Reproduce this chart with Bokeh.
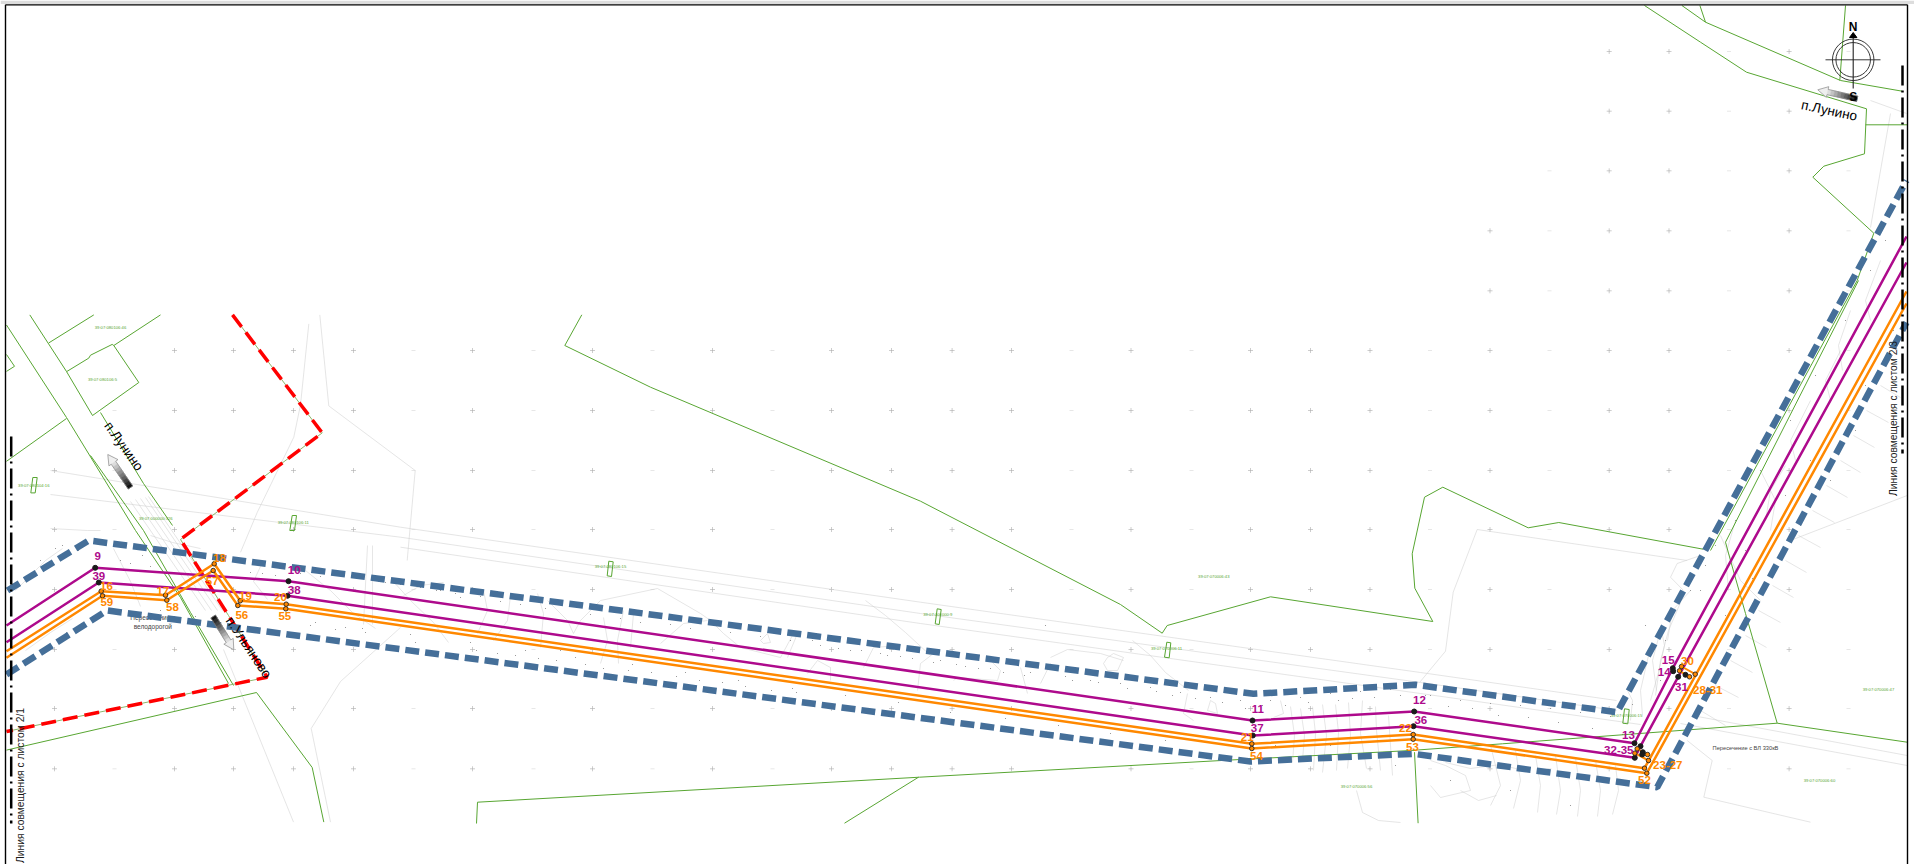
import numpy as np
from bokeh.plotting import figure
from bokeh.models import Range1d
from bokeh.core.properties import value
from bokeh.embed import file_html
from bokeh.resources import INLINE

# ---------- route lines (map coordinates as read from the sheet) ----------
magenta_a_x = [6, 94.7, 288, 1252, 1413.7, 1634, 1672.3, 1906]
magenta_a_y = [625, 567.3, 580.7, 720, 711, 742.7, 667.7, 236]
magenta_b_x = [6, 98.3, 287, 1252.3, 1413, 1634.3, 1640, 1677.7, 1906]
magenta_b_y = [641.7, 582, 595.3, 735, 725.7, 757.3, 745.7, 676.3, 262]
orange_a_x = [6, 100.7, 165, 213.7, 239.7, 285.7, 1251.3, 1412.7, 1644, 1906]
orange_a_y = [650.7, 590.7, 594.7, 563.3, 600.3, 603.7, 743.3, 734, 767.7, 291]
orange_b_x = [6, 102, 166.3, 212.7, 237.3, 285.3, 1251.3, 1412.7, 1646.3, 1906]
orange_b_y = [657.3, 595.3, 599.7, 570, 605, 608.3, 748, 738.7, 772.7, 303]
orange_links = [([1681, 1694.7], [666, 673.7]), ([1679, 1689], [670.3, 676.3]),
                ([1636.7, 1647], [748.3, 754]), ([1634.3, 1648], [752.7, 760])]
black_x = [94.7, 98.3, 288, 287, 1252, 1252.3, 1413.7, 1413, 1634, 1640, 1634.3, 1642.3, 1641.7, 1672.3, 1672.7, 1677.7, 1685]
black_y = [567.3, 582, 580.7, 595.3, 720, 735, 711, 725.7, 742.7, 745.7, 757.3, 751.7, 754, 667.7, 670.7, 676.3, 674.3]
ring_x = [100.7, 102, 165, 166.3, 213.7, 212.7, 239.7, 237.3, 285.7, 285.3, 1251.3, 1251.3, 1412.7, 1412.7,
          1636.7, 1634.3, 1647, 1648, 1644, 1646.3, 1681, 1679, 1694.7, 1689]
ring_y = [590.7, 595.3, 594.7, 599.7, 563.3, 570, 600.3, 605, 603.7, 608.3, 743.3, 748, 734, 738.7,
          748.3, 752.7, 754, 760, 767.7, 772.7, 666, 670.3, 673.7, 676.3]

# ---------- protection zone ----------
zone_top_x = [7, 88.3, 1253, 1415, 1616.7, 1906]
zone_top_y = [590, 540, 693.3, 684.3, 711.7, 180]
zone_bot_x = [6, 106.7, 1250, 1413, 1656.7, 1906]
zone_bot_y = [674, 610, 761, 753.3, 786.7, 322]

# ---------- red boundary ----------
red_a_x = [232, 321.7, 180, 228, 266.7, 6]
red_a_y = [314.4, 432.4, 539, 615, 676.7, 731]

# ---------- sheet match lines ----------
match_left_x = [10.7, 10.7]
match_left_y = [436, 823]
match_right_x = [1902, 1902]
match_right_y = [65, 453]

# ---------- cadastre lines (green) ----------
green_lines = [
    ([6, 66, 135, 180, 228], [324.5, 417, 530, 597, 683]),
    ([90, 143, 190, 233], [455, 530, 612, 685]),
    ([29.3, 66, 92], [314.4, 371, 415]),
    ([100, 143, 172], [412, 483, 525]),
    ([48.3, 93.3], [342.4, 314.4]),
    ([66, 88.3, 90, 111.7, 113.3, 160], [371.2, 357.6, 354.7, 343.9, 345, 314.4]),
    ([113.3, 138.3, 92], [345, 382, 415]),
    ([6, 14, 6], [354, 365.8, 370.9]),
    ([66, 6], [418, 460.8]),
    ([6, 256, 311.7, 323.3], [749.6, 692, 767, 821.6]),
    ([581.3, 564.3, 650, 920, 1120, 1161.7, 1166.7, 1270, 1432.3, 1414.3, 1411.7, 1424, 1442.3, 1527.7, 1558.3, 1702.7],
     [314.3, 345, 386.7, 500.7, 604, 632.7, 625, 596.3, 621, 587.7, 553.3, 496.7, 486.7, 527.3, 522, 548.7]),
    ([1710, 1856.7, 1873.3, 1812.3, 1823.3, 1864, 1866, 1746, 1700, 1644], [550, 280, 232.7, 176.7, 165.7, 153.3, 108.3, 71.7, 41.7, 5]),
    ([1725, 1858], [541.7, 280]),
    ([1725, 1730, 1745, 1776.7, 1501.8, 1410, 1221, 919, 477, 476], [541.7, 560, 613, 722.7, 743.3, 750, 760, 776.7, 801.7, 823]),
    ([1776.7, 1906.7], [722.7, 741.7]),
    ([918, 844], [776.7, 822.7]),
    ([1414, 1417.6], [751.7, 822.7]),
    ([1681.4, 1705, 1840, 1901.7], [5, 21.7, 80, 90.7]),
    ([1699.4, 1705], [5, 21.7]),
    ([1845, 1839.3], [5, 80]),
    ([1865, 1906.7], [124.3, 124.3]),
]
tower_shapes = [
    ([32.3, 36.7, 34.7, 30.3], [477, 477, 492.4, 492.4]),
    ([291.7, 296, 294, 289.3], [515, 515, 530, 530]),
    ([608.3, 612.7, 611, 606.7], [560.7, 561.3, 576, 575.3]),
    ([936.7, 940.7, 938.7, 934.7], [608.3, 609, 624, 623.3]),
    ([1166.3, 1170.3, 1168.7, 1164], [641.7, 642.3, 657.3, 656.7]),
    ([1624, 1628.7, 1627.3, 1622.3], [708.3, 709, 723.3, 722.7]),
]
parcel_x = [110, 102, 33.3, 155.3, 292.7, 610, 937.3, 1166, 1213.3, 1356, 1878, 1819, 1626]
parcel_y = [326.6, 378.8, 484.5, 518, 522.3, 566, 614, 647.7, 576.3, 785.7, 689, 780, 715]
parcel_text = ["39:07:080106:46", "39:07:080106:5", "39:07:080104:16", "39:07:000000:326", "39:07:080106:11",
               "39:07:080106:15", "39:07:000000:9", "39:07:070006:11", "39:07:070006:43", "39:07:070006:56",
               "39:07:070006:47", "39:07:070006:60", "39:07:070006:15"]

# ---------- survey grid marks ----------
plus_cols = [54, 174, 233, 293, 353, 472, 592, 712, 831, 891, 951.6, 1011, 1130.5, 1250, 1310, 1369.5, 1489.5, 1608.7, 1668.5, 1788.6]
dash_cols = [114, 413, 533, 652, 772, 1071, 1191, 1429.5, 1549, 1728.5, 1848]
grid_rows = [51, 110.7, 170.3, 230.3, 290.3, 350, 410, 470, 529, 589, 649, 708, 768.3]
row_starts = [1600, 1600, 1540, 1480, 1480, 170, 110, 50, 50, 50, 50, 50, 50]

# ---------- surveyed relief (grey) ----------
grey_lines = [
    ([50, 400, 920, 1420, 1616], [470, 526.7, 601.7, 672, 700]),
    ([50, 400, 920, 1420, 1616], [494, 536.7, 613, 682, 710]),
    ([400, 920, 1420, 1640], [546.7, 623, 693, 724]),
    ([1691.7, 1906.7], [715, 755]),
    ([1680, 1906.7], [723, 765]),
    ([319.3, 328.3, 414.7, 406.7], [314.4, 405.4, 470, 560]),
    ([308.3, 300, 293.3, 256.7, 240], [323.4, 404.3, 436.7, 512, 551.8]),
    ([400, 340, 310.7, 330], [627, 681, 728, 821.6]),
    ([223, 293], [649, 821.6]),
    ([130, 205], [501, 610]), ([135, 211], [499, 610]), ([140, 217], [498, 610]), ([145, 222], [497, 610]), ([148, 226], [496, 610]),
    ([1906.7, 1791.7], [495, 539.3]),
    ([1476.7, 1686.7], [529, 560]),
    ([1476.7, 1452.7, 1445, 1419.3], [529, 591.7, 650.7, 681.7]),
    ([1700, 1676.7, 1670, 1683], [555, 563, 576.7, 590]),
    ([1870, 1906], [100, 113]),
    ([1890, 1870], [113, 227]),
    ([1686.7, 1711.7, 1703.3, 1810], [740, 760, 796.7, 821.7]),
    ([1356, 1362, 1378, 1400], [790, 812, 820, 822]),
]
contour_lines = [
    ([403, 420, 443], [595, 585, 582]), ([483, 487, 477], [590, 610, 633]), ([510, 507, 493], [595, 620, 640]),
    ([537, 543, 540], [593, 613, 647]),
    ([547, 567, 573, 580, 600, 657, 700, 710, 723, 740, 780, 793], [600, 620, 633, 620, 600, 588, 613, 620, 633, 647, 657, 633]),
    ([603, 607, 600], [617, 640, 663]), ([623, 617, 618], [610, 640, 663]), ([633, 630], [613, 647]),
    ([660, 683, 707], [643, 623, 620]), ([797, 787], [633, 657]), ([760, 767, 770, 763, 760], [640, 633, 642, 643, 640]),
    ([863, 873, 900], [667, 647, 645]), ([807, 817, 830, 830], [673, 660, 667, 680]),
    ([1050, 1067, 1100, 1123], [657, 649, 653, 660]), ([1040, 1050], [683, 663]),
    ([1107, 1113, 1123, 1117, 1107, 1103, 1107], [657, 653, 657, 670, 670, 663, 657]),
    ([987, 1000, 997, 957, 953], [657, 670, 680, 677, 680]), ([933, 920, 917], [653, 663, 690]), ([1020, 1027], [667, 693]),
    ([1187, 1183, 1193], [693, 713, 720]), ([1210, 1207, 1217, 1215, 1210], [700, 710, 713, 703, 700]), ([1280, 1283, 1273], [700, 713, 717]),
    ([113, 130, 140], [548, 581, 606]), ([50, 87, 100], [528, 530, 530]), ([260, 253, 267], [566, 581, 599]),
    ([367, 363], [545, 624]), ([372, 372], [545, 624]),
    ([1290, 1294, 1292], [706, 735, 762]), ([1300, 1304, 1302], [708, 735, 760]), ([1312, 1315, 1313], [706, 733, 770]),
    ([1322, 1326, 1322], [704, 735, 772]), ([1335, 1338, 1336], [704, 732, 770]), ([1348, 1350, 1347], [702, 735, 768]),
    ([1362, 1360, 1366], [700, 733, 768]), ([1375, 1376, 1380], [706, 730, 770]), ([1388, 1392], [715, 775]),
    ([1430, 1445, 1465, 1470, 1440, 1430], [760, 765, 775, 790, 797, 785]), ([1490, 1500, 1490], [745, 785, 805]),
    ([1515, 1520, 1513], [750, 780, 808]), ([1535, 1540, 1537], [755, 785, 812]), ([1555, 1560, 1556], [755, 790, 814]),
    ([1575, 1580, 1577], [758, 790, 816]), ([1595, 1600, 1597], [760, 790, 816]), ([1615, 1618, 1612], [765, 790, 814]),
    ([1630, 1632, 1627], [720, 700, 690]), ([1648, 1640, 1642], [655, 690, 715]), ([1660, 1652, 1656], [630, 660, 690]),
    ([1690, 1672, 1667], [590, 610, 640]), ([1720, 1740, 1760], [535, 580, 600]), ([1760, 1775, 1770], [470, 500, 530]),
    ([1810, 1790, 1795], [400, 440, 460]), ([1840, 1825, 1830], [350, 380, 400]), ([1880, 1865, 1870], [260, 300, 320]),
    ([1700, 1725], [710, 725]), ([1730, 1752], [660, 672]), ([1758, 1780], [610, 622]), ([1785, 1806], [560, 572]),
    ([1812, 1834], [510, 522]), ([1840, 1860], [460, 472]), ([1866, 1888], [410, 422]),
    ([1715, 1738], [685, 697]), ([1745, 1766], [635, 647]), ([1772, 1793], [585, 597]), ([1798, 1820], [535, 547]),
    ([1826, 1847], [485, 497]), ([1853, 1874], [435, 447]), ([1880, 1900], [385, 397]),
    ([1735, 1725, 1728], [520, 555, 590]), ([1785, 1770, 1765], [465, 490, 520]), ([1850, 1838, 1842], [310, 345, 370]),
    ([1660, 1664, 1658, 1650], [625, 645, 672, 700]), ([1680, 1668, 1660, 1655], [602, 630, 660, 695]),
    ([1445, 1470, 1500, 1530], [762, 768, 764, 772]), ([1460, 1478, 1496], [790, 800, 795]),
    ([305, 330, 352, 375], [570, 590, 612, 628]), ([392, 410, 433, 448], [580, 600, 622, 642]),
    ([865, 885, 905, 930], [600, 615, 632, 655]), ([1132, 1150, 1165, 1188], [640, 655, 672, 690]),
    ([15, 45, 62], [590, 560, 548]), ([25, 50, 72], [650, 632, 618]), ([150, 172, 200], [535, 542, 548]),
]
spot_x = [40, 55, 70, 30, 48, 66, 130, 150, 175, 195, 215, 262, 300, 320, 345, 365, 385, 420, 440, 460, 480, 500,
          520, 545, 560, 590, 620, 640, 670, 690, 730, 760, 790, 820, 850, 880, 900, 940, 965, 990, 1030, 1065,
          1090, 1120, 1150, 1180, 1210, 1240, 1270, 1300, 1330, 1360, 1390, 1430, 1460, 1490, 1520, 1550, 1580, 1610,
          1650, 1665, 1690, 1715, 1735, 1760, 1790, 1815, 1845, 1870, 1885,
          25, 62, 78, 120, 142, 160, 250, 275, 310, 335, 358, 378, 400, 415, 436, 455, 476, 497, 515, 538, 556,
          585, 603, 628, 651, 676, 699, 722, 745, 771, 796, 812, 838, 861, 887, 912, 933, 956, 978, 1003, 1024,
          1045, 1072, 1098, 1127, 1156, 1172, 1195, 1222, 1245, 1262, 1285, 1308, 1338, 1352, 1374, 1400, 1425,
          1448, 1472, 1498, 1528, 1558, 1592, 1622, 1632, 1660, 1645, 1675, 1700, 1705, 1725, 1745, 1752, 1770,
          1785, 1800, 1810, 1830, 1838, 1855, 1865, 1880, 1893,
          315, 362, 410, 470, 525, 575, 632, 685, 738, 792, 845, 898, 950, 1005, 1058, 1110, 1165, 1218, 1275,
          1330, 1395, 1450, 1510, 1570]
spot_y = [560, 548, 553, 662, 650, 632, 563, 566, 610, 616, 620, 573, 573, 576, 627, 632, 582, 587, 590, 597, 596, 601,
          604, 608, 650, 614, 618, 622, 624, 628, 632, 636, 640, 645, 650, 653, 656, 660, 666, 668, 672, 676,
          680, 683, 687, 692, 697, 700, 700, 697, 693, 691, 689, 695, 700, 703, 705, 708, 712, 716,
          655, 640, 590, 545, 520, 470, 420, 375, 320, 270, 240,
          576, 545, 550, 560, 555, 610, 572, 575, 625, 629, 578, 581, 584, 642, 590, 593, 650, 653, 655, 658, 660,
          664, 668, 670, 672, 676, 680, 682, 686, 690, 692, 640, 648, 650, 655, 658, 662, 664, 668, 672, 675,
          625, 680, 682, 688, 691, 695, 698, 702, 708, 705, 705, 702, 700, 698, 697, 695, 695,
          706, 708, 715, 717, 722, 728, 734, 704, 680, 625, 610, 590, 565, 615, 550, 578, 548,
          495, 525, 460, 480, 415, 430, 385, 340, 330,
          622, 628, 634, 642, 650, 657, 664, 672, 680, 688, 695, 702, 712, 718, 725, 733, 740, 730, 745, 745, 765, 780, 790, 805]

# ---------- labels ----------
magenta_lbl_x = [97.3, 98.3, 293.7, 293.7, 1257.3, 1256.7, 1419, 1420.3, 1628, 1618.3, 1667.7, 1663.7, 1681]
magenta_lbl_y = [555, 575, 569, 589, 708.3, 727.3, 699, 719.3, 734, 749.3, 659.7, 671.3, 686]
magenta_lbl = ["9", "39", "10", "38", "11", "37", "12", "36", "13", "32-35", "15", "14", "31"]
orange_lbl_x = [106, 106.3, 162.3, 172, 219, 211.7, 245, 241.3, 280, 284.3, 1246.7, 1256, 1405, 1412, 1667.3, 1644, 1687, 1707.3]
orange_lbl_y = [585.7, 601.7, 590, 606, 557.7, 580, 595, 614.7, 596, 615, 736, 755, 727.7, 746.7, 764, 779.3, 660, 689]
orange_lbl = ["16", "59", "17", "58", "18", "57", "19", "56", "20", "55", "21", "54", "22", "53", "23-27", "52", "30", "28-31"]
note_x = [152.3, 152.3]
note_y = [617.3, 625.7]
note_text = ["Пересечение с", "велодорогой"]
note2_x = [1745]
note2_y = [747.3]
note2_text = ["Пересечение с ВЛ 330кВ"]
place_x = [123.3, 248.3, 1828.7]
place_y = [445.7, 647, 110]
place_text = ["п.Лунино", "п.Ульяново", "п.Лунино"]
place_angle = [-54.5, -56, -12]
match_lbl_x = [20, 1893]
match_lbl_y = [785, 418]
match_lbl = ["Линия совмещения с листом 2/1", "Линия совмещения с листом 2/3"]

# ---------- road direction arrows: tip, tail ----------
arrow_tips = [(107.3, 454), (233.3, 649.3), (1817.3, 89.3)]
arrow_tails = [(130, 487), (212.7, 616), (1856.7, 98.3)]

# ---------- compass ----------
compass_x = 1852.7
compass_y = 59.3
compass_h = ([1825, 1880], [59.3, 59.3])
compass_v = ([1852.7, 1852.7], [36, 88])
compass_head = ([1852.7, 1849, 1856.4], [32, 37, 37])

p = figure(width=1914, height=864, x_range=Range1d(0, 1914), y_range=Range1d(864, 0),
           toolbar_location=None, output_backend="svg", min_border=0,
           background_fill_color="white", border_fill_color="white", outline_line_color=None,
           styles={"position": "absolute", "left": "0px", "top": "0px"})
p.axis.visible = False
p.grid.visible = False

# grid marks
px, py, dx, dy = [], [], [], []
for r, s in zip(grid_rows, row_starts):
    for c in plus_cols:
        if c >= s:
            px.append(c); py.append(r)
    for c in dash_cols:
        if c >= s:
            dx.append(c); dy.append(r)
p.scatter(px, py, marker="cross", size=5, line_color="#ababab", line_width=0.6)
p.scatter(dx, dy, marker="dash", size=4, line_color="#d6d6d6", line_width=0.6)

# grey surveyed relief
p.multi_line([g[0] for g in grey_lines], [g[1] for g in grey_lines], line_color="#d4d4d4", line_width=0.6)
p.multi_line([g[0] for g in contour_lines], [g[1] for g in contour_lines], line_color="#cccccc", line_width=0.5)
p.scatter(spot_x, spot_y, marker="circle", size=1.1, fill_color="#888888", line_color=None)

# green
p.multi_line([g[0] for g in green_lines], [g[1] for g in green_lines], line_color="#58a632", line_width=1.0)
p.patches([t[0] for t in tower_shapes], [t[1] for t in tower_shapes], fill_color=None, line_color="#58a632", line_width=1.0)
p.text(parcel_x, parcel_y, text=parcel_text, text_align="center", text_baseline="middle",
       text_font=value("Liberation Sans"), text_font_size="4.2px", text_color="#58a632")

# notes
p.text(note_x, note_y, text=note_text, text_align="center", text_baseline="middle",
       text_font=value("Liberation Sans"), text_font_size="6.5px", text_color="#444444")
p.text(note2_x, note2_y, text=note2_text, text_align="center", text_baseline="middle",
       text_font=value("Liberation Sans"), text_font_size="5.7px", text_color="#444444")

# red boundary
p.line(red_a_x, red_a_y, line_color="#8fb56a", line_width=1)
p.line(red_a_x, red_a_y, line_color="#ff0000", line_width=3.5, line_dash="15 7")

# protection zone
p.line(zone_top_x, zone_top_y, line_color="#456f99", line_width=6.5, line_dash="14 6")
p.line(zone_bot_x, zone_bot_y, line_color="#456f99", line_width=6.5, line_dash="14 6")

# route
p.line(magenta_a_x, magenta_a_y, line_color="#ae0a8c", line_width=2.5)
p.line(magenta_b_x, magenta_b_y, line_color="#ae0a8c", line_width=2.5)
p.line(orange_a_x, orange_a_y, line_color="#ff8800", line_width=2.5)
p.line(orange_b_x, orange_b_y, line_color="#ff8800", line_width=2.5)
p.multi_line([o[0] for o in orange_links], [o[1] for o in orange_links], line_color="#ff8800", line_width=2)
p.scatter(black_x, black_y, marker="circle", size=5, fill_color="#1a1a1a", line_color="#1a1a1a")
p.scatter(ring_x, ring_y, marker="circle", size=4.5, fill_color="#ff8800", line_color="#222222", line_width=0.9)

# sheet match lines
for lx, ly in ((match_left_x, match_left_y), (match_right_x, match_right_y)):
    p.line(lx, ly, line_color="black", line_width=2.5, line_dash="20 5 2 5")
p.text(match_lbl_x, match_lbl_y, text=match_lbl, angle=[np.pi / 2] * 2, text_align="center", text_baseline="middle",
       text_font=value("Liberation Sans"), text_font_size="10.3px", text_color="#1a1a1a")

# arrows
def arrow(tip, tail, seg=9, hw=5.5, sw=2.7, hl=10):
    t = np.array(tip, float); b = np.array(tail, float)
    L = np.hypot(*(b - t)); u = (b - t) / L; n = np.array([-u[1], u[0]])
    neck = t + u * hl
    xs, ys, cs = [], [], []
    head = np.array([t, neck + n * hw, neck - n * hw])
    xs.append(list(head[:, 0])); ys.append(list(head[:, 1])); cs.append("#efefef")
    f = np.linspace(0, 1, seg + 1)
    for i in range(seg):
        a = neck + (b - neck) * f[i]; c = neck + (b - neck) * f[i + 1]
        q = np.array([a + n * sw, c + n * sw, c - n * sw, a - n * sw])
        xs.append(list(q[:, 0])); ys.append(list(q[:, 1]))
        v = int(225 * (1 - f[i + 1]) + 20)
        cs.append("#%02x%02x%02x" % (v, v, v))
    p.patches(xs, ys, fill_color=cs, line_color=cs, line_width=0.5)
    ol = np.array([t, neck + n * hw, neck + n * sw, b + n * sw, b - n * sw, neck - n * sw, neck - n * hw, t])
    p.line(ol[:, 0], ol[:, 1], line_color="#8a8a8a", line_width=0.7)

for tip, tail in zip(arrow_tips, arrow_tails):
    arrow(tip, tail)

p.text(place_x, place_y, text=place_text, angle=[np.deg2rad(a) for a in place_angle], text_align="center", text_baseline="middle",
       text_font=value("Liberation Sans"), text_font_size="13.5px", text_color="black")

# compass
p.scatter([compass_x], [compass_y], marker="circle", size=41.5, fill_color=None, line_color="#222222", line_width=0.9)
p.scatter([compass_x], [compass_y], marker="circle", size=34.5, fill_color=None, line_color="#222222", line_width=0.9)
p.line(*compass_h, line_color="#222222", line_width=0.9)
p.line(*compass_v, line_color="#222222", line_width=1.1)
p.patch(*compass_head, fill_color="black", line_color="black")
p.text([compass_x, compass_x], [26, 96], text=["N", "S"], text_align="center", text_baseline="middle",
       text_font=value("Liberation Sans"), text_font_size="12px", text_font_style="bold", text_color="black")

# numeric labels
p.text(magenta_lbl_x, magenta_lbl_y, text=magenta_lbl, text_align="center", text_baseline="middle",
       text_font=value("Liberation Sans"), text_font_size="11.5px", text_font_style="bold", text_color="#ae0a8c")
p.text(orange_lbl_x, orange_lbl_y, text=orange_lbl, text_align="center", text_baseline="middle",
       text_font=value("Liberation Sans"), text_font_size="11.5px", text_font_style="bold", text_color="#ff8800")

# sheet frame
p.quad(left=[0], right=[1914], top=[0], bottom=[3.4], fill_color="#dddddd", line_color=None)
p.line([5, 5], [4.3, 864], line_color="black", line_width=1.4)
p.line([5, 1907], [4.3, 4.3], line_color="black", line_width=1.2)
p.line([1907, 1907], [4.3, 864], line_color="black", line_width=1.4)

open("out.html", "w").write(file_html(p, INLINE))
